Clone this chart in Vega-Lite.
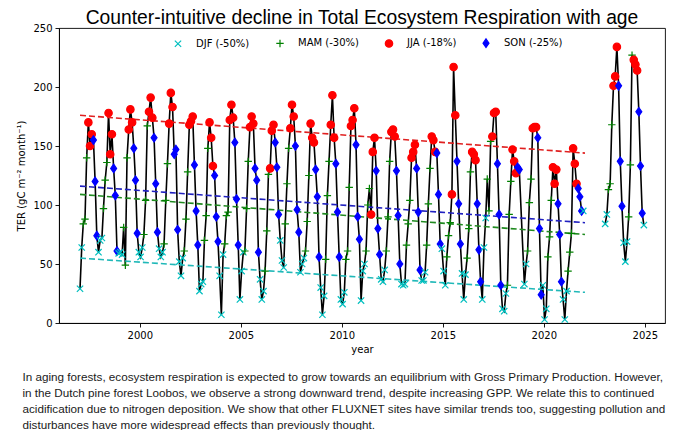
{
  "$schema": "https://vega.github.io/schema/vega-lite/v6.json",
  "padding": {"left": 16, "top": 8, "right": 13, "bottom": 0},
  "background": "white",
  "config": {
    "font": "DejaVu Sans",
    "view": {"stroke": "black", "strokeWidth": 0.9},
    "axis": {"labelFont": "DejaVu Sans", "labelFontSize": 10, "titleFont": "DejaVu Sans", "titleFontSize": 10, "titleFontWeight": "normal", "labelColor": "black", "titleColor": "black", "tickColor": "black", "domainColor": "black", "tickSize": 4, "labelPadding": 3, "grid": false, "domainWidth": 0.9, "tickWidth": 0.9},
    "legend": {"labelFont": "DejaVu Sans", "labelFontSize": 10, "labelColor": "black"}
  },
  "title": {
    "text": [
      "In aging forests, ecosystem respiration is expected to grow towards an equilibrium with Gross Primary Production. However,",
      "in the Dutch pine forest Loobos, we observe a strong downward trend, despite increasing GPP. We relate this to continued",
      "acidification due to nitrogen deposition. We show that other FLUXNET sites have similar trends too, suggesting pollution and",
      "disturbances have more widespread effects than previously thought."
    ],
    "orient": "bottom", "anchor": "start", "frame": "bounds", "font": "Liberation Sans", "fontSize": 11.7, "fontWeight": "normal", "lineHeight": 15.7, "offset": 18, "dx": 6, "color": "#1a1a1a"
  },
  "resolve": {"scale": {"color": "independent", "shape": "independent", "stroke": "independent"}},
  "datasets": {
    "trend": [
      {"d": "1997-01-15", "v": 55, "t": "DJF"}, {"d": "2022-01-15", "v": 26, "t": "DJF"},
      {"d": "1997-01-15", "v": 109, "t": "MAM"}, {"d": "2022-01-15", "v": 75, "t": "MAM"},
      {"d": "1997-01-15", "v": 176, "t": "JJA"}, {"d": "2022-01-15", "v": 144, "t": "JJA"},
      {"d": "1997-01-15", "v": 116, "t": "SON"}, {"d": "2022-01-15", "v": 85, "t": "SON"}
    ],
    "ter": [
      {"d":"1997-01-15","v":29},{"d":"1997-02-15","v":64},{"d":"1997-03-15","v":84},{"d":"1997-04-15","v":88},{"d":"1997-05-15","v":140},{"d":"1997-06-15","v":170},{"d":"1997-07-15","v":150},{"d":"1997-08-15","v":160},{"d":"1997-09-15","v":155},{"d":"1997-10-15","v":120},{"d":"1997-11-15","v":74},{"d":"1997-12-15","v":60},
      {"d":"1998-01-15","v":70},{"d":"1998-02-15","v":72},{"d":"1998-03-15","v":97},{"d":"1998-04-15","v":121},{"d":"1998-05-15","v":136},{"d":"1998-06-15","v":178},{"d":"1998-07-15","v":143},{"d":"1998-08-15","v":160},{"d":"1998-09-15","v":131},{"d":"1998-10-15","v":108},{"d":"1998-11-15","v":61},{"d":"1998-12-15","v":59},
      {"d":"1999-01-15","v":60},{"d":"1999-02-15","v":58},{"d":"1999-03-15","v":81},{"d":"1999-04-15","v":49},{"d":"1999-05-15","v":140},{"d":"1999-06-15","v":164},{"d":"1999-07-15","v":181},{"d":"1999-08-15","v":170},{"d":"1999-09-15","v":148},{"d":"1999-10-15","v":121},{"d":"1999-11-15","v":76},{"d":"1999-12-15","v":60},
      {"d":"2000-01-15","v":56},{"d":"2000-02-15","v":64},{"d":"2000-03-15","v":75},{"d":"2000-04-15","v":104},{"d":"2000-05-15","v":167},{"d":"2000-06-15","v":179},{"d":"2000-07-15","v":191},{"d":"2000-08-15","v":174},{"d":"2000-09-15","v":157},{"d":"2000-10-15","v":118},{"d":"2000-11-15","v":77},{"d":"2000-12-15","v":63},
      {"d":"2001-01-15","v":56},{"d":"2001-02-15","v":60},{"d":"2001-03-15","v":67},{"d":"2001-04-15","v":104},{"d":"2001-05-15","v":135},{"d":"2001-06-15","v":169},{"d":"2001-07-15","v":195},{"d":"2001-08-15","v":183},{"d":"2001-09-15","v":143},{"d":"2001-10-15","v":147},{"d":"2001-11-15","v":79},{"d":"2001-12-15","v":52},
      {"d":"2002-01-15","v":40},{"d":"2002-02-15","v":55},{"d":"2002-03-15","v":61},{"d":"2002-04-15","v":88},{"d":"2002-05-15","v":128},{"d":"2002-06-15","v":168},{"d":"2002-07-15","v":171},{"d":"2002-08-15","v":175},{"d":"2002-09-15","v":134},{"d":"2002-10-15","v":95},{"d":"2002-11-15","v":66},{"d":"2002-12-15","v":27},
      {"d":"2003-01-15","v":33},{"d":"2003-02-15","v":35},{"d":"2003-03-15","v":70},{"d":"2003-04-15","v":91},{"d":"2003-05-15","v":148},{"d":"2003-06-15","v":170},{"d":"2003-07-15","v":157},{"d":"2003-08-15","v":133},{"d":"2003-09-15","v":125},{"d":"2003-10-15","v":90},{"d":"2003-11-15","v":69},{"d":"2003-12-15","v":40},
      {"d":"2004-01-15","v":7},{"d":"2004-02-15","v":58},{"d":"2004-03-15","v":67},{"d":"2004-04-15","v":91},{"d":"2004-05-15","v":94},{"d":"2004-06-15","v":172},{"d":"2004-07-15","v":185},{"d":"2004-08-15","v":174},{"d":"2004-09-15","v":153},{"d":"2004-10-15","v":105},{"d":"2004-11-15","v":66},{"d":"2004-12-15","v":20},
      {"d":"2005-01-15","v":44},{"d":"2005-02-15","v":60},{"d":"2005-03-15","v":61},{"d":"2005-04-15","v":97},{"d":"2005-05-15","v":137},{"d":"2005-06-15","v":166},{"d":"2005-07-15","v":175},{"d":"2005-08-15","v":169},{"d":"2005-09-15","v":131},{"d":"2005-10-15","v":121},{"d":"2005-11-15","v":60},{"d":"2005-12-15","v":37},
      {"d":"2006-01-15","v":20},{"d":"2006-02-15","v":27},{"d":"2006-03-15","v":44},{"d":"2006-04-15","v":78},{"d":"2006-05-15","v":126},{"d":"2006-06-15","v":131},{"d":"2006-07-15","v":163},{"d":"2006-08-15","v":168},{"d":"2006-09-15","v":153},{"d":"2006-10-15","v":132},{"d":"2006-11-15","v":92},{"d":"2006-12-15","v":70},
      {"d":"2007-01-15","v":53},{"d":"2007-02-15","v":47},{"d":"2007-03-15","v":84},{"d":"2007-04-15","v":118},{"d":"2007-05-15","v":148},{"d":"2007-06-15","v":165},{"d":"2007-07-15","v":185},{"d":"2007-08-15","v":175},{"d":"2007-09-15","v":150},{"d":"2007-10-15","v":96},{"d":"2007-11-15","v":77},{"d":"2007-12-15","v":43},
      {"d":"2008-01-15","v":50},{"d":"2008-02-15","v":55},{"d":"2008-03-15","v":61},{"d":"2008-04-15","v":86},{"d":"2008-05-15","v":125},{"d":"2008-06-15","v":169},{"d":"2008-07-15","v":157},{"d":"2008-08-15","v":153},{"d":"2008-09-15","v":130},{"d":"2008-10-15","v":107},{"d":"2008-11-15","v":56},{"d":"2008-12-15","v":30},
      {"d":"2009-01-15","v":7},{"d":"2009-02-15","v":23},{"d":"2009-03-15","v":54},{"d":"2009-04-15","v":108},{"d":"2009-05-15","v":137},{"d":"2009-06-15","v":168},{"d":"2009-07-15","v":193},{"d":"2009-08-15","v":157},{"d":"2009-09-15","v":135},{"d":"2009-10-15","v":94},{"d":"2009-11-15","v":56},{"d":"2009-12-15","v":20},
      {"d":"2010-01-15","v":16},{"d":"2010-02-15","v":26},{"d":"2010-03-15","v":54},{"d":"2010-04-15","v":61},{"d":"2010-05-15","v":115},{"d":"2010-06-15","v":167},{"d":"2010-07-15","v":172},{"d":"2010-08-15","v":182},{"d":"2010-09-15","v":151},{"d":"2010-10-15","v":90},{"d":"2010-11-15","v":71},{"d":"2010-12-15","v":19},
      {"d":"2011-01-15","v":44},{"d":"2011-02-15","v":50},{"d":"2011-03-15","v":61},{"d":"2011-04-15","v":100},{"d":"2011-05-15","v":114},{"d":"2011-06-15","v":92},{"d":"2011-07-15","v":145},{"d":"2011-08-15","v":157},{"d":"2011-09-15","v":129},{"d":"2011-10-15","v":80},{"d":"2011-11-15","v":58},{"d":"2011-12-15","v":37},
      {"d":"2012-01-15","v":35},{"d":"2012-02-15","v":45},{"d":"2012-03-15","v":61},{"d":"2012-04-15","v":90},{"d":"2012-05-15","v":137},{"d":"2012-06-15","v":162},{"d":"2012-07-15","v":164},{"d":"2012-08-15","v":158},{"d":"2012-09-15","v":129},{"d":"2012-10-15","v":91},{"d":"2012-11-15","v":50},{"d":"2012-12-15","v":33},
      {"d":"2013-01-15","v":32},{"d":"2013-02-15","v":33},{"d":"2013-03-15","v":66},{"d":"2013-04-15","v":84},{"d":"2013-05-15","v":104},{"d":"2013-06-15","v":140},{"d":"2013-07-15","v":145},{"d":"2013-08-15","v":151},{"d":"2013-09-15","v":131},{"d":"2013-10-15","v":94},{"d":"2013-11-15","v":45},{"d":"2013-12-15","v":36},
      {"d":"2014-01-15","v":36},{"d":"2014-02-15","v":43},{"d":"2014-03-15","v":66},{"d":"2014-04-15","v":101},{"d":"2014-05-15","v":131},{"d":"2014-06-15","v":158},{"d":"2014-07-15","v":155},{"d":"2014-08-15","v":145},{"d":"2014-09-15","v":144},{"d":"2014-10-15","v":109},{"d":"2014-11-15","v":67},{"d":"2014-12-15","v":63},
      {"d":"2015-01-15","v":44},{"d":"2015-02-15","v":32},{"d":"2015-03-15","v":56},{"d":"2015-04-15","v":74},{"d":"2015-05-15","v":85},{"d":"2015-06-15","v":109},{"d":"2015-07-15","v":217},{"d":"2015-08-15","v":176},{"d":"2015-09-15","v":137},{"d":"2015-10-15","v":101},{"d":"2015-11-15","v":67},{"d":"2015-12-15","v":42},
      {"d":"2016-01-15","v":20},{"d":"2016-02-15","v":41},{"d":"2016-03-15","v":55},{"d":"2016-04-15","v":80},{"d":"2016-05-15","v":128},{"d":"2016-06-15","v":145},{"d":"2016-07-15","v":143},{"d":"2016-08-15","v":138},{"d":"2016-09-15","v":101},{"d":"2016-10-15","v":62},{"d":"2016-11-15","v":35},{"d":"2016-12-15","v":20},
      {"d":"2017-01-15","v":64},{"d":"2017-02-15","v":89},{"d":"2017-03-15","v":122},{"d":"2017-04-15","v":95},{"d":"2017-05-15","v":154},{"d":"2017-06-15","v":158},{"d":"2017-07-15","v":178},{"d":"2017-08-15","v":179},{"d":"2017-09-15","v":135},{"d":"2017-10-15","v":92},{"d":"2017-11-15","v":32},{"d":"2017-12-15","v":12},
      {"d":"2018-01-15","v":10},{"d":"2018-02-15","v":25},{"d":"2018-03-15","v":32},{"d":"2018-04-15","v":92},{"d":"2018-05-15","v":120},{"d":"2018-06-15","v":147},{"d":"2018-07-15","v":137},{"d":"2018-08-15","v":127},{"d":"2018-09-15","v":132},{"d":"2018-10-15","v":130},
      {"d":"2019-01-15","v":33},{"d":"2019-02-15","v":50},{"d":"2019-03-15","v":61},{"d":"2019-04-15","v":102},{"d":"2019-05-15","v":122},{"d":"2019-06-15","v":165},{"d":"2019-07-15","v":166},{"d":"2019-08-15","v":166},{"d":"2019-09-15","v":157},{"d":"2019-10-15","v":80},{"d":"2019-11-15","v":24},{"d":"2019-12-15","v":32},
      {"d":"2020-01-15","v":3},{"d":"2020-02-15","v":12},{"d":"2020-03-15","v":56},{"d":"2020-04-15","v":73},{"d":"2020-05-15","v":104},{"d":"2020-06-15","v":132},{"d":"2020-07-15","v":118},{"d":"2020-08-15","v":130},{"d":"2020-09-15","v":101},{"d":"2020-10-15","v":75},{"d":"2020-11-15","v":35},{"d":"2020-12-15","v":20},
      {"d":"2021-01-15","v":3},{"d":"2021-02-15","v":27},{"d":"2021-03-15","v":44},{"d":"2021-04-15","v":60},{"d":"2021-05-15","v":76},{"d":"2021-06-15","v":148},{"d":"2021-07-15","v":135},{"d":"2021-08-15","v":118},{"d":"2021-09-15","v":114},{"d":"2021-10-15","v":107},{"d":"2021-11-15","v":95},{"d":"2021-12-15","v":95},
      {"d":"2023-01-15","v":84},{"d":"2023-02-15","v":92},{"d":"2023-03-15","v":113},{"d":"2023-04-15","v":118},{"d":"2023-05-15","v":168},{"d":"2023-06-15","v":201},{"d":"2023-07-15","v":209},{"d":"2023-08-15","v":234},{"d":"2023-09-15","v":201},{"d":"2023-10-15","v":137},{"d":"2023-11-15","v":99},{"d":"2023-12-15","v":68},
      {"d":"2024-01-15","v":52},{"d":"2024-02-15","v":69},{"d":"2024-03-15","v":90},{"d":"2024-04-15","v":134},{"d":"2024-05-15","v":227},{"d":"2024-06-15","v":223},{"d":"2024-07-15","v":219},{"d":"2024-08-15","v":214},{"d":"2024-09-15","v":179},{"d":"2024-10-15","v":133},{"d":"2024-11-15","v":93},{"d":"2024-12-15","v":83}
    ]
  },
  "vconcat": [
    {
      "width": 606,
      "height": 295,
      "title": {"text": "Counter-intuitive decline in Total Ecosystem Respiration with age", "anchor": "middle", "frame": "group", "font": "Liberation Sans", "fontSize": 19.3, "fontWeight": "normal", "color": "black", "offset": -5},
      "resolve": {"scale": {"color": "independent", "shape": "independent", "stroke": "independent"}},
      "encoding": {
        "x": {"field": "d", "type": "temporal", "scale": {"type": "utc", "domain": [{"year": 1996, "month": 1, "date": 1, "utc": true}, {"year": 2026, "month": 1, "date": 1, "utc": true}]},
          "axis": {"title": "year", "format": "%Y", "formatType": "utc", "titlePadding": 4, "values": [{"year": 2000, "utc": true}, {"year": 2005, "utc": true}, {"year": 2010, "utc": true}, {"year": 2015, "utc": true}, {"year": 2020, "utc": true}, {"year": 2025, "utc": true}]}},
        "y": {"field": "v", "type": "quantitative", "scale": {"domain": [0, 250], "nice": false}, "axis": {"title": "TER (gC m⁻² month⁻¹)", "values": [0, 50, 100, 150, 200, 250], "titlePadding": 6}}
      },
      "layer": [
        {
          "data": {"name": "ter"},
          "transform": [{"calculate": "utcyear(toDate(datum.d)) > 2022 ? 'b' : 'a'", "as": "p"}],
          "mark": {"type": "line", "color": "black", "strokeWidth": 1.6},
          "encoding": {"detail": {"field": "p"}}
        },
        {
          "data": {"name": "trend"},
          "mark": {"type": "line", "strokeWidth": 1.6, "strokeDash": [6, 3]},
          "encoding": {"stroke": {"field": "t", "type": "nominal", "scale": {"domain": ["DJF", "MAM", "JJA", "SON"], "range": ["#20b8b8", "#208a20", "#e02020", "#2020c0"]}, "legend": null}}
        },
        {
          "data": {"name": "ter"},
          "transform": [{"calculate": "['DJF (-50%)','DJF (-50%)','MAM (-30%)','MAM (-30%)','MAM (-30%)','JJA (-18%)','JJA (-18%)','JJA (-18%)','SON (-25%)','SON (-25%)','SON (-25%)','DJF (-50%)'][utcmonth(toDate(datum.d))]", "as": "s"}],
          "mark": {"type": "point", "filled": true, "strokeWidth": 1.2, "size": 55, "opacity": 1},
          "encoding": {
            "color": {"field": "s", "type": "nominal", "scale": {"domain": ["DJF (-50%)", "MAM (-30%)", "JJA (-18%)", "SON (-25%)"], "range": ["#00bfbf", "#008000", "#ff0000", "#0000ff"]}, "legend": {"orient": "none", "legendX": 114, "legendY": 10, "direction": "horizontal", "title": null, "symbolSize": 55, "symbolStrokeWidth": 1.2, "columnPadding": 23, "labelOffset": 13}},
            "shape": {"field": "s", "type": "nominal", "scale": {"domain": ["DJF (-50%)", "MAM (-30%)", "JJA (-18%)", "SON (-25%)"], "range": ["M-0.85,-0.85L0.85,0.85M-0.85,0.85L0.85,-0.85", "M-1,0L1,0M0,-1L0,1", "circle", "M0,-1.15L0.8,0L0,1.15L-0.8,0Z"]}, "legend": {"orient": "none", "legendX": 114, "legendY": 10, "direction": "horizontal", "title": null, "symbolSize": 55, "symbolStrokeWidth": 1.2, "columnPadding": 23, "labelOffset": 13}},
            "stroke": {"field": "s", "type": "nominal", "scale": {"domain": ["DJF (-50%)", "MAM (-30%)", "JJA (-18%)", "SON (-25%)"], "range": ["#00bfbf", "#008000", "#ff0000", "#0000ff"]}, "legend": {"orient": "none", "legendX": 114, "legendY": 10, "direction": "horizontal", "title": null, "symbolSize": 55, "symbolStrokeWidth": 1.2, "columnPadding": 23, "labelOffset": 13}}
          }
        }
      ]
    }
  ]
}
